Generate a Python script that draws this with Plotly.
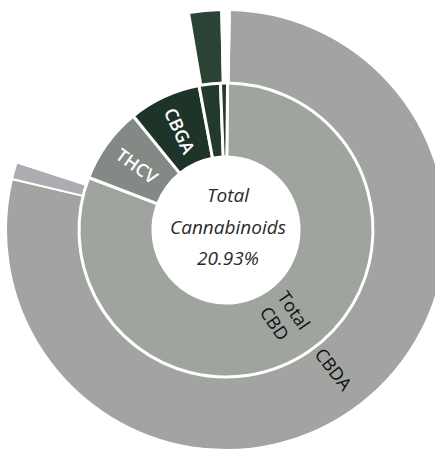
import math
import plotly.graph_objects as go

# ---- data ----
total_label = "Total Cannabinoids"
total_value = "20.93%"

inner_labels = ["Total CBD", "THCV", "CBGA", "Total THC", "CBN"]
inner_values = [16.88, 1.74, 1.66, 0.49, 0.16]
inner_text = ["", "THCV", "CBGA", "", ""]
inner_colors = ["#a0a49f", "#838984", "#1e3428", "#22392c", "#22392c"]

outer_labels = ["CBDA", "CBD", "", "THCA", " "]
outer_values = [16.42, 0.26, 3.63, 0.49, 0.13]
outer_colors = ["#a1a4a1", "#adadb1", "rgba(255,255,255,0)", "#2b4335", "rgba(255,255,255,0)"]

# rotated labels of the two big slices (drawn as annotations at the slice middle)
big_labels = [("inner", 0, "Total<br>CBD"), ("outer", 0, "CBDA")]

# ---- layout geometry ----
W, H = 446, 451
cx, cy, R = 226.0, 230.0, 220.0   # page px
r_mid_frac = 0.668
r_hole_frac = 0.332
inner_rot, outer_rot = 0.6, 1.0


def clamp(v):
    return min(1.0, max(0.0, v))


def dom(r):
    return dict(x=[clamp((cx - r) / W), clamp((cx + r) / W)],
                y=[clamp(1 - (cy + r) / H), clamp(1 - (cy - r) / H)])


def mid_bearing(values, idx, rot):
    tot = sum(values)
    return rot + (sum(values[:idx]) + values[idx] / 2) / tot * 360.0


fig = go.Figure()
fig.add_trace(go.Pie(
    labels=outer_labels, values=outer_values,
    textinfo="none", sort=False, direction="clockwise", rotation=outer_rot,
    hole=r_mid_frac, domain=dom(R),
    marker=dict(colors=outer_colors, line=dict(color="white", width=2)),
    showlegend=False, hoverinfo="label+value",
))
fig.add_trace(go.Pie(
    labels=inner_labels, values=inner_values, text=inner_text,
    textinfo="text", textposition="inside", insidetextorientation="radial",
    sort=False, direction="clockwise", rotation=inner_rot,
    hole=r_hole_frac / r_mid_frac, domain=dom(R * r_mid_frac),
    marker=dict(colors=inner_colors, line=dict(color="white", width=3)),
    textfont=dict(family="Open Sans", size=18, color="#ffffff", weight=600),
    showlegend=False, hoverinfo="label+value",
))

# labels along the radius of the big slices
for ring, idx, txt in big_labels:
    if ring == "inner":
        b = mid_bearing(inner_values, idx, inner_rot)
        r = R * 0.475
    else:
        b = mid_bearing(outer_values, idx, outer_rot)
        r = R * 0.80
    px = cx + r * math.sin(math.radians(b))
    py = cy - r * math.cos(math.radians(b))
    fig.add_annotation(
        text=txt, x=px / W, y=1 - py / H, xref="paper", yref="paper",
        showarrow=False, xanchor="center", yanchor="middle", textangle=b - 90,
        font=dict(family="Open Sans", size=18, color="#111111"),
    )

center_lines = ["Total", "Cannabinoids", total_value]
for i, t in enumerate(center_lines):
    fig.add_annotation(
        text=t, x=(cx + 2) / W, y=1 - (cy - 35 + 31.5 * i) / H,
        xref="paper", yref="paper", showarrow=False,
        xanchor="center", yanchor="middle",
        font=dict(family="Open Sans", size=19, color="#2a2a2a", style="italic"),
    )

fig.update_layout(
    width=W, height=H, margin=dict(l=0, r=0, t=0, b=0),
    paper_bgcolor="white", plot_bgcolor="white",
)
fig.write_html(
    "out.html",
    config={"displayModeBar": False},
    post_script="document.body.style.margin='0';document.body.style.overflow='hidden';",
)
